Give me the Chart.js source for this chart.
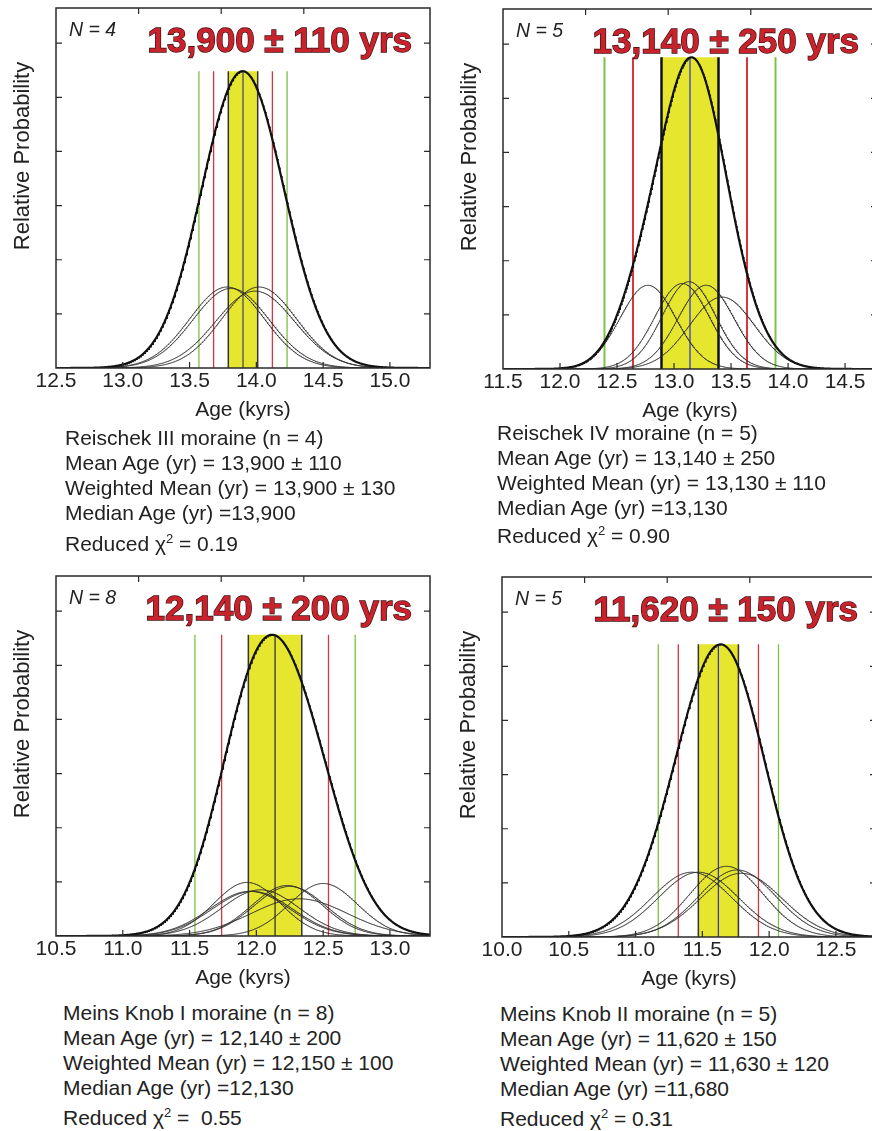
<!DOCTYPE html>
<html>
<head>
<meta charset="utf-8">
<script src="https://cdn.jsdelivr.net/npm/chart.js@4.4.1/dist/chart.umd.min.js"></script>
<style>
html, body { margin: 0; padding: 0; width: 872px; height: 1131px; overflow: hidden; background: #fff; }
body { position: relative; font-family: "Liberation Sans", Arial, Helvetica, sans-serif; color: #222; }
.box { position: absolute; width: 440px; height: 430px; }
.box canvas { position: absolute; left: 0; top: 0; }
.nlab { position: absolute; font-style: italic; font-size: 19.5px; line-height: 19.5px; white-space: nowrap; }
.big { position: absolute; width: 400px; text-align: right; font-weight: bold; font-size: 35px; line-height: 35px;
       color: #c8222c; -webkit-text-stroke: 1.3px #3a0c0c; paint-order: stroke fill; white-space: nowrap; }
.ytitle { position: absolute; width: 220px; height: 22px; text-align: center; font-size: 22px; line-height: 22px;
          transform: rotate(-90deg); white-space: nowrap; }
.cap { position: absolute; font-size: 21px; line-height: 25px; white-space: nowrap; }
.cap sup { font-size: 13px; line-height: 0; vertical-align: 8px; }
</style>
</head>
<body>
<script>
// ages (kyr) and 1-sigma errors (kyr) of the boulders of each moraine
const agesR3 = [13.78, 13.81, 13.99, 14.02];
const sigR3 = [0.28, 0.285, 0.295, 0.28];
const agesR4 = [12.77, 13.07, 13.13, 13.28, 13.42];
const sigR4 = [0.245, 0.24, 0.235, 0.245, 0.285];
const agesMK1 = [11.93, 11.95, 11.97, 12.03, 12.23, 12.25, 12.32, 12.50];
const sigMK1 = [0.25, 0.30, 0.30, 0.29, 0.265, 0.27, 0.36, 0.255];
const agesMK2 = [11.42, 11.47, 11.68, 11.76, 11.79];
const sigMK2 = [0.30, 0.30, 0.275, 0.29, 0.305];

// relative probability scaling of each panel
const relScale = [1.05, 0.95, 0.62, 0.9];

// moraine mean age and standard deviation (kyr)
const meanAge = [13.90, 13.14, 12.14, 11.62];
const meanSd = [0.11, 0.25, 0.20, 0.15];

// age axis ranges (kyr) and probability axis top
const xMin = [12.5, 11.5, 10.5, 10.0];
const xMax = [15.3, 14.78, 13.3, 12.8];
const yMax = 6.65;

const sampleCount = ['N = 4', 'N = 5', 'N = 8', 'N = 5'];
const bigTitles = ['13,900 \u00b1 110 yrs', '13,140 \u00b1 250 yrs', '12,140 \u00b1 200 yrs', '11,620 \u00b1 150 yrs'];
const captions = [
    ['Reischek III moraine (n = 4)', 'Mean Age (yr) = 13,900 \u00b1 110', 'Weighted Mean (yr) = 13,900 \u00b1 130', 'Median Age (yr) =13,900', '0.19'],
    ['Reischek IV moraine (n = 5)', 'Mean Age (yr) = 13,140 \u00b1 250', 'Weighted Mean (yr) = 13,130 \u00b1 110', 'Median Age (yr) =13,130', '0.90'],
    ['Meins Knob I moraine (n = 8)', 'Mean Age (yr) = 12,140 \u00b1 200', 'Weighted Mean (yr) = 12,150 \u00b1 100', 'Median Age (yr) =12,130', '\u00a00.55'],
    ['Meins Knob II moraine (n = 5)', 'Mean Age (yr) = 11,620 \u00b1 150', 'Weighted Mean (yr) = 11,630 \u00b1 120', 'Median Age (yr) =11,680', '0.31']
];

const allAges = [agesR3, agesR4, agesMK1, agesMK2];
const allSig = [sigR3, sigR4, sigMK1, sigMK2];

// layout: plot frame corner of each panel (page pixels)
const frames = [
    { left: 56, top: 8 }, { left: 503, top: 9 },
    { left: 56, top: 576 }, { left: 502, top: 577 }
];
const capLeft = [65, 497, 63, 500];
const capTop = [425, 419.5, 999.5, 1001];
const capGap = [5.5, 3, 5, 5];
const styles = [
    { center: '#4a4c66', edge: '#333', edgeW: 1.5, vW: 1.3 },
    { center: '#3140c0', edge: '#111', edgeW: 2.5, vW: 2 },
    { center: '#333', edge: '#333', edgeW: 1.5, vW: 1.3 },
    { center: '#3c3cb0', edge: '#333', edgeW: 1.5, vW: 1.3 }
];

function gauss(x, mu, s) {
    return Math.exp(-0.5 * ((x - mu) / s) * ((x - mu) / s)) / (s * Math.sqrt(2 * Math.PI));
}

// inward ticks and frame box
const framePlugin = {
    id: 'frame',
    afterDraw(chart) {
        const { ctx, chartArea: a, scales } = chart;
        ctx.save();
        ctx.strokeStyle = '#2a2a2a';
        ctx.lineWidth = 1.2;
        ctx.beginPath();
        scales.x.ticks.forEach(t => {
            const px = scales.x.getPixelForValue(t.value);
            if (px > a.left + 2 && px < a.right - 2) { ctx.moveTo(px, a.bottom); ctx.lineTo(px, a.bottom - 6); }
        });
        scales.x2.ticks.forEach(t => {
            const px = scales.x2.getPixelForValue(t.value);
            if (px > a.left + 2 && px < a.right - 2) { ctx.moveTo(px, a.top); ctx.lineTo(px, a.top + 6); }
        });
        scales.y.ticks.forEach(t => {
            const py = scales.y.getPixelForValue(t.value);
            if (py > a.top + 2 && py < a.bottom - 2) {
                ctx.moveTo(a.left, py); ctx.lineTo(a.left + 6, py);
                ctx.moveTo(a.right, py); ctx.lineTo(a.right - 6, py);
            }
        });
        ctx.stroke();
        ctx.lineWidth = 1.5;
        ctx.strokeRect(a.left, a.top, a.right - a.left, a.bottom - a.top);
        ctx.restore();
    }
};

function addDiv(cls, html, left, top) {
    const d = document.createElement('div');
    d.className = cls;
    d.innerHTML = html;
    d.style.left = left + 'px';
    d.style.top = top + 'px';
    document.body.appendChild(d);
    return d;
}

for (let p = 0; p < 4; p++) {
    const f = frames[p];
    const st = styles[p];
    const ages = allAges[p];
    const sig = allSig[p];

    // probability curves
    const xs = [];
    for (let x = xMin[p]; x <= xMax[p] + 1e-9; x += 0.005) xs.push(x);
    const single = ages.map((a, i) => xs.map(x => ({ x: x, y: relScale[p] * gauss(x, a, sig[i]) })));
    const sum = xs.map((x, j) => ({ x: x, y: single.reduce((acc, c) => acc + c[j].y, 0) }));
    const top = Math.max(...sum.map(s => s.y));

    const m = meanAge[p], s = meanSd[p];
    const vline = (v, color, w, order) => ({
        data: [{ x: v, y: 0 }, { x: v, y: top }],
        borderColor: color, borderWidth: w, pointRadius: 0, order: order
    });

    const datasets = [];
    datasets.push({
        data: [{ x: m - s, y: top }, { x: m + s, y: top }],
        borderColor: 'transparent', borderWidth: 0, pointRadius: 0,
        backgroundColor: '#e7e62e', fill: 'origin', order: 5
    });
    datasets.push(vline(m - 3 * s, '#7dc242', st.vW, 4));
    datasets.push(vline(m + 3 * s, '#7dc242', st.vW, 4));
    datasets.push(vline(m - 2 * s, '#d8353f', st.vW, 4));
    datasets.push(vline(m + 2 * s, '#d8353f', st.vW, 4));
    datasets.push(vline(m - s, st.edge, st.edgeW, 4));
    datasets.push(vline(m + s, st.edge, st.edgeW, 4));
    datasets.push(vline(m, st.center, 1.3, 3));
    single.forEach(c => datasets.push({
        data: c, borderColor: '#2b2b2b', borderWidth: 1, pointRadius: 0, order: 2
    }));
    datasets.push({ data: sum, borderColor: '#111', borderWidth: 2.2, pointRadius: 0, order: 1 });

    const box = document.createElement('div');
    box.className = 'box';
    box.style.left = (f.left - 56) + 'px';
    box.style.top = (f.top - 8) + 'px';
    const cv = document.createElement('canvas');
    cv.width = 440; cv.height = 430;
    box.appendChild(cv);
    document.body.appendChild(box);

    new Chart(cv.getContext('2d'), {
        type: 'line',
        data: { datasets: datasets },
        options: {
            responsive: false,
            animation: false,
            layout: { padding: { left: 56, top: 8, right: 10, bottom: 7 } },
            plugins: { legend: { display: false }, tooltip: { enabled: false } },
            elements: { line: { tension: 0 } },
            scales: {
                x: {
                    type: 'linear', min: xMin[p], max: xMax[p],
                    grid: { display: false, drawTicks: false },
                    border: { display: false },
                    ticks: {
                        stepSize: 0.5, includeBounds: false, padding: 3, color: '#222',
                        font: { family: 'Liberation Sans', size: 21, lineHeight: 1 },
                        maxRotation: 0, autoSkip: false,
                        callback: v => Number(v).toFixed(1)
                    },
                    title: {
                        display: true, text: 'Age (kyrs)', color: '#222', padding: 0,
                        font: { family: 'Liberation Sans', size: 21 }
                    },
                    afterFit: axis => { axis.height = 55; }
                },
                x2: {
                    type: 'linear', position: 'top', display: false,
                    min: 0, max: 374 / 82.6, ticks: { stepSize: 1 }
                },
                y: {
                    display: false, min: 0, max: yMax, ticks: { stepSize: 1 }
                }
            }
        },
        plugins: [framePlugin]
    });

    // text inside and around the panel
    addDiv('nlab', sampleCount[p], f.left + 13, f.top + 12);
    addDiv('big', bigTitles[p], f.left + 356 - 400, f.top + 13.5);
    addDiv('ytitle', 'Relative Probability', f.left - 34 - 110, f.top + 148 - 11);
    const c = captions[p];
    addDiv('cap', c.slice(0, 4).join('<br>') +
        '<div style="margin-top:' + capGap[p] + 'px">Reduced \u03c7<sup>2</sup> = ' + c[4] + '</div>',
        capLeft[p], capTop[p]);
}
</script>
</body>
</html>
